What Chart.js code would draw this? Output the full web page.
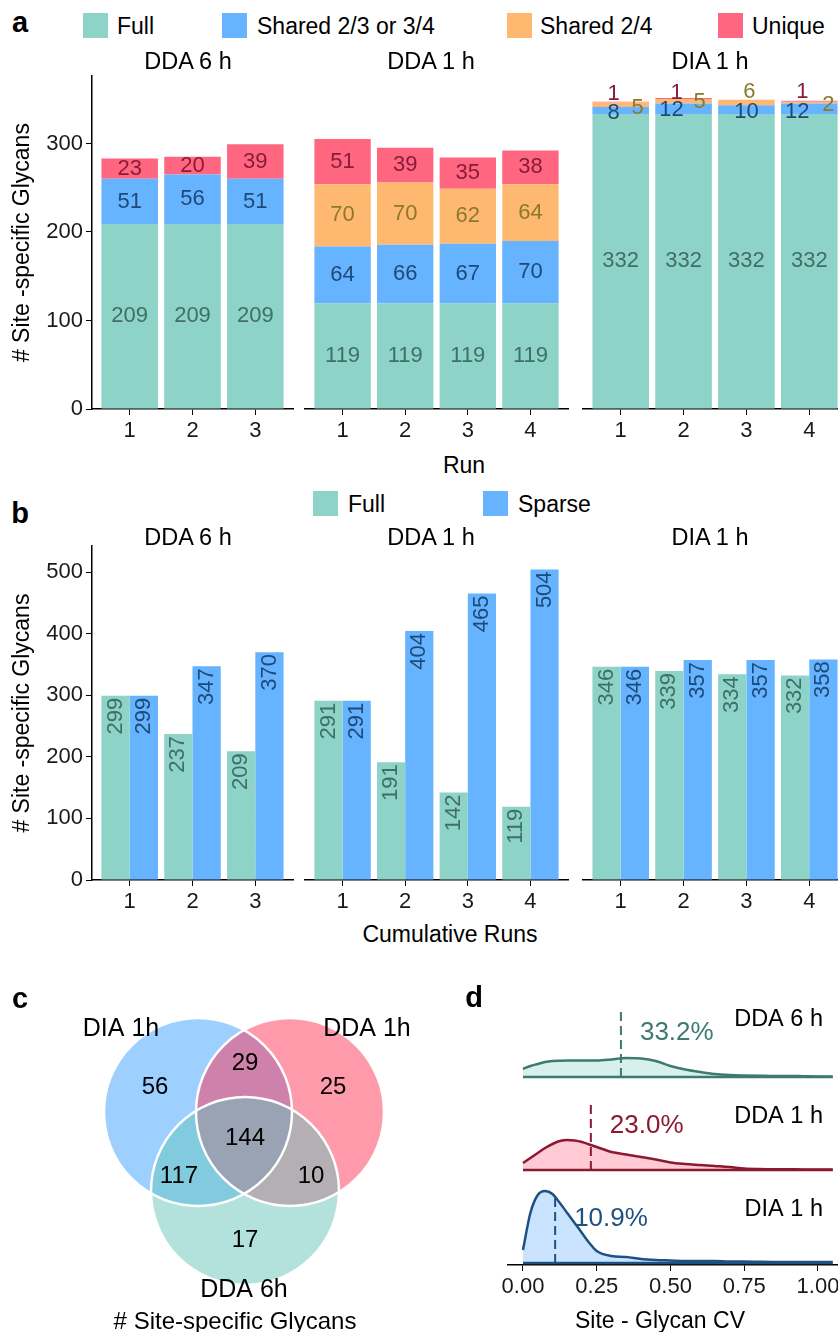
<!DOCTYPE html>
<html>
<head>
<meta charset="utf-8">
<title>Site-specific glycans</title>
<script src="https://cdn.jsdelivr.net/npm/chart.js@4.4.0/dist/chart.umd.min.js"></script>
<style>
  html, body { margin: 0; padding: 0; background: #fff; }
  body { width: 838px; height: 1332px; overflow: hidden; position: relative; font-family: "Liberation Sans", Arial, sans-serif; color: #000; }
  canvas { position: absolute; }
  .t { position: absolute; white-space: nowrap; line-height: 1; transform: translate(-50%, -50%); }
  .l { position: absolute; white-space: nowrap; line-height: 1; transform: translateY(-50%); }
  .sw { position: absolute; width: 25px; height: 25px; }
  .tag { font-weight: bold; font-size: 29px; }
</style>
</head>
<body>
<!-- panel a -->
<canvas id="a1" width="300" height="390" style="left:0;top:60px"></canvas>
<canvas id="a2" width="280" height="390" style="left:300px;top:60px"></canvas>
<canvas id="a3" width="272" height="390" style="left:578px;top:60px"></canvas>
<!-- panel b -->
<canvas id="b1" width="300" height="390" style="left:0;top:530px"></canvas>
<canvas id="b2" width="280" height="390" style="left:300px;top:530px"></canvas>
<canvas id="b3" width="272" height="390" style="left:578px;top:530px"></canvas>
<!-- panel c / d -->
<canvas id="venn" width="440" height="352" style="left:0;top:980px"></canvas>
<canvas id="dens" width="400" height="352" style="left:440px;top:980px"></canvas>

<script>
// ---- data ----
const facetNames = ['DDA 6 h', 'DDA 1 h', 'DIA 1 h'];
const runs = [[1, 2, 3], [1, 2, 3, 4], [1, 2, 3, 4]];

// a: site-specific glycans per run
const fullCounts = [[209, 209, 209], [119, 119, 119, 119], [332, 332, 332, 332]];
const shared34Counts = [[51, 56, 51], [64, 66, 67, 70], [8, 12, 10, 12]];
const shared24Counts = [[null, null, null], [70, 70, 62, 64], [5, 5, 6, 2]];
const uniqueCounts = [[23, 20, 39], [51, 39, 35, 38], [1, 1, 0, 1]];
const yTicksA = [0, 100, 200, 300];

// b: cumulative runs
const cumFull = [[299, 237, 209], [291, 191, 142, 119], [346, 339, 334, 332]];
const cumSparse = [[299, 347, 370], [291, 404, 465, 504], [346, 357, 357, 358]];
const yTicksB = [0, 100, 200, 300, 400, 500];

// c: overlap of identifications
const vennSets = ['DIA 1h', 'DDA 1h', 'DDA 6h'];
const vennCounts = [56, 25, 17, 29, 117, 10, 144]; // DIA, DDA1, DDA6, DIA&DDA1, DIA&DDA6, DDA1&DDA6, all

// d: CV density per method
const cvGrid = [0, 0.025, 0.05, 0.075, 0.1, 0.125, 0.15, 0.175, 0.2, 0.225, 0.25, 0.3, 0.35, 0.4,
                0.45, 0.5, 0.55, 0.6, 0.65, 0.7, 0.75, 0.8, 0.85, 0.9, 0.95, 1.0, 1.05];
const densDDA6 = [8, 11, 13, 15, 16, 16.3, 16.5, 16.5, 16.5, 16.5, 16.5, 17.5, 19, 18.5,
                  16, 11, 7.5, 5, 3, 2, 1.5, 1.2, 1, 1, 0.8, 0.6, 0.5];
const densDDA1 = [7, 12, 17, 22, 26, 29, 30, 29.5, 28, 25.5, 23, 18, 15.5, 13,
                  10.5, 7.5, 6, 5, 4, 3, 1.5, 1, 0.8, 0.7, 0.6, 0.5, 0.5];
const densDIA1 = [13, 50, 68, 72, 69, 60, 50, 40, 30, 20, 12, 7, 6, 4,
                  3, 2.5, 2, 2, 2, 1.5, 1.5, 1.2, 1, 1, 1, 1, 1];
const cvMedians = [0.332, 0.230, 0.109];
const cvTicks = [0, 0.25, 0.5, 0.75, 1.0];

// ---- styles ----
const COL_FULL = '#8dd3c7', COL_SHARED = '#66b3ff', COL_SHARED24 = '#ffb870', COL_UNIQUE = '#ff6781';
const TXT_FULL = '#3f6f67', TXT_SHARED = '#1d4a78', TXT_SHARED24 = '#8a7a2c', TXT_UNIQUE = '#8a1c3a';
const GRID = 'rgba(255,255,255,0.3)';

Chart.defaults.font.family = '"Liberation Sans", Arial, sans-serif';
Chart.defaults.color = '#1a1a1a';
Chart.defaults.animation = false;
Chart.defaults.responsive = false;
Chart.defaults.events = [];
Chart.defaults.plugins.legend.display = false;
Chart.defaults.plugins.tooltip.enabled = false;

// html text helpers
function txt(s, x, y, size, cls) {
    const d = document.createElement('div');
    d.className = cls || 't';
    d.textContent = s;
    d.style.left = x + 'px';
    d.style.top = y + 'px';
    if (size) d.style.fontSize = size + 'px';
    document.body.appendChild(d);
}
function swatch(x, y, color) {
    const d = document.createElement('div');
    d.className = 'sw';
    d.style.left = x + 'px';
    d.style.top = y + 'px';
    d.style.background = color;
    document.body.appendChild(d);
}

// labels on bars
const barLabels = {
    id: 'barLabels',
    afterDraw(chart, args, opts) {
        const ctx = chart.ctx;
        ctx.save();
        ctx.font = '22px "Liberation Sans", Arial, sans-serif';
        chart.data.datasets.forEach((ds, di) => {
            const meta = chart.getDatasetMeta(di);
            meta.data.forEach((bar, i) => {
                const v = ds.data[i].y;
                if (!v) return;
                ctx.fillStyle = opts.colors[di];
                if (opts.rotate) {
                    ctx.save();
                    ctx.translate(bar.x, bar.y + 2);
                    ctx.rotate(-Math.PI / 2);
                    ctx.textAlign = 'right';
                    ctx.textBaseline = 'middle';
                    ctx.fillText(String(v), 0, 0);
                    ctx.restore();
                } else {
                    const n = opts.nudge && opts.nudge[di] ? opts.nudge[di][i] : [0, 0];
                    ctx.textAlign = 'center';
                    ctx.textBaseline = 'middle';
                    ctx.fillText(String(v), bar.x + n[0], (bar.y + bar.base) / 2 + n[1]);
                }
            });
        });
        ctx.restore();
    }
};

// ggrepel-like nudges for the thin DIA segments (px)
const diaNudge = [
    null,
    [[-7, 2], [-12, 1], [0, 2], [-12, 3]],
    [[17, 3], [16, 1], [3, -11], [19, 2]],
    [[-7, -8], [-7, -6], [0, 0], [-7, -9]]
];

const padLeft = [0, 5, 5];
const padRight = [7, 12, 3];

function barFacet(id, f, cfg) {
    const first = f === 0;
    const n = runs[f].length;
    const grid = [];
    cfg.yTicks.forEach(v => { grid.push(v); grid.push(v + 50); });
    return new Chart(document.getElementById(id), {
        type: 'bar',
        data: {
            datasets: cfg.series.map(s => ({
                label: s.label,
                data: runs[f].map((r, i) => ({ x: r, y: s.values[f][i] })),
                backgroundColor: s.color,
                borderWidth: 0,
                categoryPercentage: 0.9,
                barPercentage: 1
            }))
        },
        options: {
            layout: { autoPadding: false, padding: { top: cfg.padTop, left: padLeft[f], right: padRight[f], bottom: 0 } },
            scales: {
                x: {
                    type: 'linear', stacked: cfg.stacked, min: 0.4, max: n + 0.6, z: 1, offset: false,
                    afterBuildTicks: s => { s.ticks = runs[f].map(v => ({ value: v })); },
                    afterFit: s => { s.height = cfg.xHeight; s.paddingLeft = 0; s.paddingRight = 0; },
                    ticks: { font: { size: 22 }, padding: 3, maxRotation: 0 },
                    grid: { offset: false, color: GRID, tickColor: '#000', tickLength: 6 },
                    border: { color: '#000', width: 1.5 }
                },
                y: {
                    stacked: cfg.stacked, min: 0, max: cfg.yMax, z: 1,
                    afterBuildTicks: s => { s.ticks = grid.map(v => ({ value: v })); },
                    afterFit: s => { s.width = first ? 92 : 0; },
                    ticks: {
                        display: first, font: { size: 22 }, padding: 3,
                        callback: v => cfg.yTicks.includes(v) ? String(v) : ''
                    },
                    grid: {
                        color: GRID, drawTicks: first, tickLength: 6,
                        tickColor: c => c.tick && cfg.yTicks.includes(c.tick.value) ? '#000' : 'rgba(0,0,0,0)'
                    },
                    border: { display: first, color: '#000', width: 1.5 },
                    title: {
                        display: first, text: '# Site -specific Glycans', color: '#000',
                        font: { size: 23 }, padding: { top: 9, bottom: 0 }
                    }
                }
            },
            plugins: {
                barLabels: { colors: cfg.series.map(s => s.text), rotate: cfg.rotate, nudge: f === 2 ? cfg.nudge : null }
            }
        },
        plugins: [barLabels]
    });
}

// ---- panel a ----
const seriesA = [
    { label: 'Full', values: fullCounts, color: COL_FULL, text: TXT_FULL },
    { label: 'Shared 2/3 or 3/4', values: shared34Counts, color: COL_SHARED, text: TXT_SHARED },
    { label: 'Shared 2/4', values: shared24Counts, color: COL_SHARED24, text: TXT_SHARED24 },
    { label: 'Unique', values: uniqueCounts, color: COL_UNIQUE, text: TXT_UNIQUE }
];
['a1', 'a2', 'a3'].forEach((id, f) => barFacet(id, f, {
    series: seriesA, stacked: true, yMax: 376, yTicks: yTicksA,
    padTop: 15, xHeight: 41, rotate: false, nudge: diaNudge
}));

// ---- panel b ----
const seriesB = [
    { label: 'Full', values: cumFull, color: COL_FULL, text: TXT_FULL },
    { label: 'Sparse', values: cumSparse, color: COL_SHARED, text: TXT_SHARED }
];
['b1', 'b2', 'b3'].forEach((id, f) => barFacet(id, f, {
    series: seriesB, stacked: false, yMax: 542, yTicks: yTicksB,
    padTop: 16, xHeight: 40, rotate: true
}));

// ---- panel c: venn ----
const vennCenters = [[198, 132], [290, 132], [245, 211]];
const vennRadius = 94;
const vennFill = ['rgba(59,159,255,0.5)', 'rgba(255,53,87,0.5)', 'rgba(103,197,187,0.5)'];
const vennCountPos = [[155, 107], [333, 107], [245, 260], [245, 83], [179, 196], [311, 196], [245, 158]];
const vennSetPos = [[121, 49], [367, 49], [244, 310]];

const vennText = {
    id: 'vennText',
    afterDraw(chart) {
        const { ctx, scales: { x, y } } = chart;
        ctx.save();
        ctx.fillStyle = '#000';
        ctx.textAlign = 'center';
        ctx.textBaseline = 'middle';
        ctx.font = '24px "Liberation Sans", Arial, sans-serif';
        vennCounts.forEach((v, i) => {
            ctx.fillText(String(v), x.getPixelForValue(vennCountPos[i][0]), y.getPixelForValue(vennCountPos[i][1]));
        });
        ctx.font = '25px "Liberation Sans", Arial, sans-serif';
        vennSets.forEach((s, i) => {
            ctx.fillText(s, x.getPixelForValue(vennSetPos[i][0]), y.getPixelForValue(vennSetPos[i][1]));
        });
        ctx.font = '24px "Liberation Sans", Arial, sans-serif';
        ctx.fillText('# Site-specific Glycans', x.getPixelForValue(235), y.getPixelForValue(342));
        ctx.restore();
    }
};

// first set drawn at the bottom, white outlines on top (lower order = drawn later)
new Chart(document.getElementById('venn'), {
    type: 'bubble',
    data: {
        datasets: vennSets.map((s, k) => ({
            label: s,
            data: [{ x: vennCenters[k][0], y: vennCenters[k][1], r: vennRadius }],
            backgroundColor: vennFill[k],
            borderWidth: 0,
            clip: false,
            order: vennSets.length - k
        })).concat([{
            label: 'outline',
            data: vennCenters.map(c => ({ x: c[0], y: c[1], r: vennRadius })),
            backgroundColor: 'rgba(0,0,0,0)',
            borderColor: '#fff',
            borderWidth: 2.5,
            clip: false,
            order: 0
        }])
    },
    options: {
        layout: { autoPadding: false, padding: 0 },
        scales: {
            x: { display: false, min: 0, max: 440 },
            y: { display: false, min: 0, max: 352, reverse: true }
        }
    },
    plugins: [vennText]
});

// ---- panel d: CV ridgelines ----
const ridgeDens = [densDDA6, densDDA1, densDIA1];
const ridgeBase = [186, 93, 0];
const ridgeLine = ['#3d7a6f', '#8c1932', '#1f5082'];
const ridgeFill = ['rgba(141,211,199,0.35)', 'rgba(255,103,129,0.35)', 'rgba(102,178,255,0.35)'];
const medianHeight = 68;

const ridgeDatasets = [];
ridgeDens.forEach((d, k) => {
    const base = ridgeBase[k];
    ridgeDatasets.push({
        data: cvGrid.map((x, i) => ({ x: x, y: base + d[i] })),
        borderColor: ridgeLine[k], backgroundColor: ridgeFill[k],
        fill: { value: base }, borderWidth: 2.5, pointRadius: 0, cubicInterpolationMode: 'monotone',
        order: 2
    });
    ridgeDatasets.push({
        data: [{ x: cvGrid[0], y: base }, { x: cvGrid[cvGrid.length - 1], y: base }],
        borderColor: ridgeLine[k], borderWidth: 2.5, pointRadius: 0, fill: false, order: 1
    });
    ridgeDatasets.push({
        data: [{ x: cvMedians[k], y: base }, { x: cvMedians[k], y: base + medianHeight }],
        borderColor: ridgeLine[k], borderWidth: 2, borderDash: [9, 5], pointRadius: 0, fill: false, order: 0
    });
});

const ridgeText = {
    id: 'ridgeText',
    afterDraw(chart) {
        const { ctx, scales: { x, y } } = chart;
        ctx.save();
        ctx.textBaseline = 'middle';
        ridgeBase.forEach((base, k) => {
            const by = y.getPixelForValue(base);
            ctx.fillStyle = ridgeLine[k];
            ctx.textAlign = 'left';
            ctx.font = '26px "Liberation Sans", Arial, sans-serif';
            ctx.fillText((cvMedians[k] * 100).toFixed(1) + '%', x.getPixelForValue(cvMedians[k]) + 19, by - 44);
            ctx.fillStyle = '#000';
            ctx.textAlign = 'right';
            ctx.font = '23.5px "Liberation Sans", Arial, sans-serif';
            ctx.fillText(facetNames[k], x.getPixelForValue(1.0) + 5, by - (k === 0 ? 57 : 53));
        });
        ctx.restore();
    }
};

new Chart(document.getElementById('dens'), {
    type: 'line',
    data: { datasets: ridgeDatasets },
    options: {
        layout: { autoPadding: false, padding: { left: 68, top: 10, right: 0, bottom: 0 } },
        scales: {
            x: {
                type: 'linear', min: -0.0508, max: 1.0746,
                afterBuildTicks: s => { s.ticks = cvTicks.map(v => ({ value: v })); },
                afterFit: s => { s.height = 67; s.paddingLeft = 0; s.paddingRight = 0; },
                ticks: { font: { size: 22 }, padding: 3, maxRotation: 0, callback: v => v.toFixed(2) },
                grid: { drawOnChartArea: false, tickColor: '#000', tickLength: 6 },
                border: { color: '#000', width: 1.5 }
            },
            y: { display: false, min: -2, max: 273 }
        }
    },
    plugins: [ridgeText]
});

// ---- html text: tags, legends, strip titles ----
txt('a', 20, 22, null, 't tag');
swatch(83, 13, COL_FULL); txt('Full', 117, 26, 23, 'l');
swatch(222, 13, COL_SHARED); txt('Shared 2/3 or 3/4', 257, 26, 23, 'l');
swatch(507, 13, COL_SHARED24); txt('Shared 2/4', 540, 26, 23, 'l');
swatch(718, 13, COL_UNIQUE); txt('Unique', 752, 26, 23, 'l');
const stripX = [188, 431, 710];
facetNames.forEach((s, i) => txt(s, stripX[i], 62, 23.5));
txt('Run', 464, 465, 23);

txt('b', 20, 513, null, 't tag');
swatch(313, 491, COL_FULL); txt('Full', 348, 504, 23, 'l');
swatch(483, 491, COL_SHARED); txt('Sparse', 518, 504, 23, 'l');
facetNames.forEach((s, i) => txt(s, stripX[i], 538, 23.5));
txt('Cumulative Runs', 450, 934, 23);

txt('c', 20, 998, null, 't tag');
txt('d', 474, 997, null, 't tag');
txt('Site - Glycan CV', 660, 1320, 23);
</script>
</body>
</html>
